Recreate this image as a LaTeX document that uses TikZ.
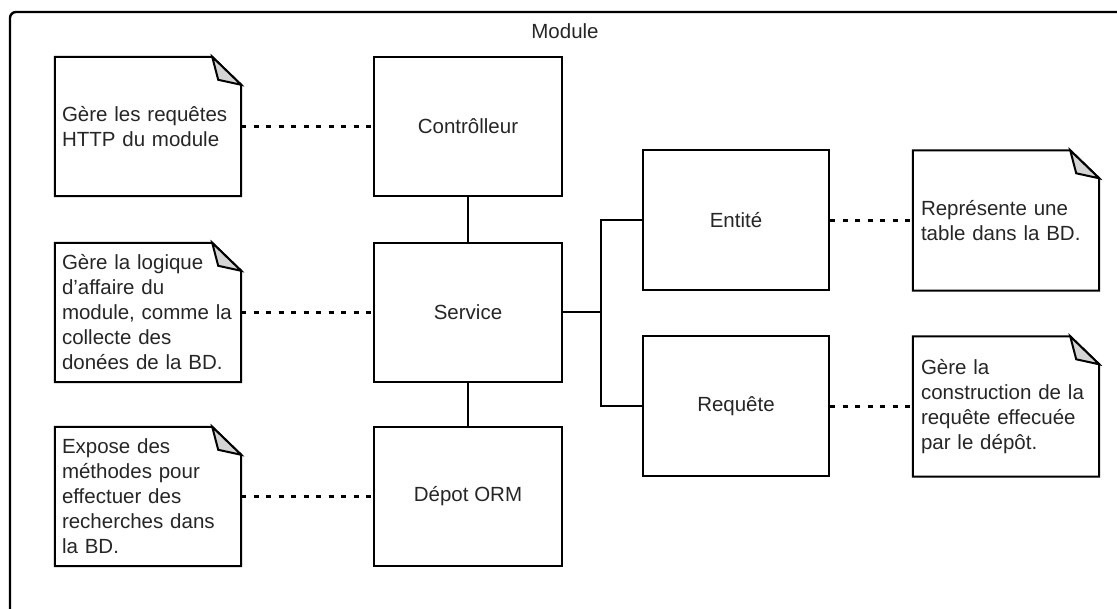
\documentclass[tikz,border=0pt]{standalone}
\usepackage{fontspec}
\setmainfont{Liberation Sans}
\begin{document}
\begin{tikzpicture}[x=1pt,y=-1pt,
  every node/.style={font=\fontsize{20.5pt}{25pt}\selectfont, text=black!85},
  comp/.style={draw, line width=2pt, minimum width=188pt, minimum height=139pt, inner sep=0pt},
  notebox/.style={minimum width=186pt, minimum height=139pt, text width=172pt,
                  inner xsep=7pt, inner ysep=0pt, align=left},
  edge/.style={line width=2pt},
  link/.style={line width=2.2pt, dash pattern=on 5pt off 7.5pt},
  outline/.style={line width=2pt, line join=miter},
  frame/.style={line width=2.4pt, rounded corners=6pt}]

\useasboundingbox (0,0) rectangle (1117,609);

% package frame, open to the right and bottom
\begin{scope}
  \clip (0,0) rectangle (1117,609);
  \draw[frame] (10,700) -- (10,12) -- (1200,12);
\end{scope}
\node (title) at (565,31) {Module};

% components
\node[comp] (ctl) at (468,126.5) {Contrôlleur};
\node[comp] (svc) at (468,312.5) {Service};
\node[comp] (orm) at (468,496.5) {Dépot ORM};
\node[comp, minimum width=186pt, minimum height=140pt] (ent) at (736,220.5) {Entité};
\node[comp, minimum width=186pt, minimum height=140pt] (req) at (736,406.5) {Requête};

% notes
\node[notebox] (n1) at (148,126.5) {Gère les requêtes\\HTTP du module};
\node[notebox] (n2) at (148,312.5) {Gère la logique\\d'affaire du\\module, comme la\\collecte des\\donées de la BD.};
\node[notebox] (n3) at (148,496.5) {Expose des\\méthodes pour\\effectuer des\\recherches dans\\la BD.};
\node[notebox, minimum height=140pt, inner xsep=8pt, text width=170pt] (n4) at (1006,220.5) {Représente une\\table dans la BD.};
\node[notebox, minimum height=140pt, inner xsep=8pt, text width=170pt] (n5) at (1006,406.5) {Gère la\\construction de la\\requête effecuée\\par le dépôt.};

\foreach \n in {n1,n2,n3,n4,n5}{
  \draw[outline] (\n.north west) -- ([xshift=-29pt]\n.north east)
     -- ([yshift=-28pt]\n.north east) -- (\n.south east) -- (\n.south west) -- cycle;
  \filldraw[outline, fill=black!17] ([xshift=-29pt]\n.north east)
     -- ([xshift=-23pt,yshift=-23pt]\n.north east) -- ([yshift=-28pt]\n.north east) -- cycle;
}

% structural links
\draw[edge] (ctl.south) -- (svc.north);
\draw[edge] (svc.south) -- (orm.north);
\coordinate (br) at (601,312.5);
\draw[edge] (svc.east) -- (br);
\draw[edge] (ent.west) -| (br) |- (req.west);

% note attachments
\draw[link] (n1.east) -- (ctl.west);
\draw[link] (n2.east) -- (svc.west);
\draw[link] (n3.east) -- (orm.west);
\draw[link] (ent.east) -- (n4.west);
\draw[link] (req.east) -- (n5.west);
\end{tikzpicture}
\end{document}
